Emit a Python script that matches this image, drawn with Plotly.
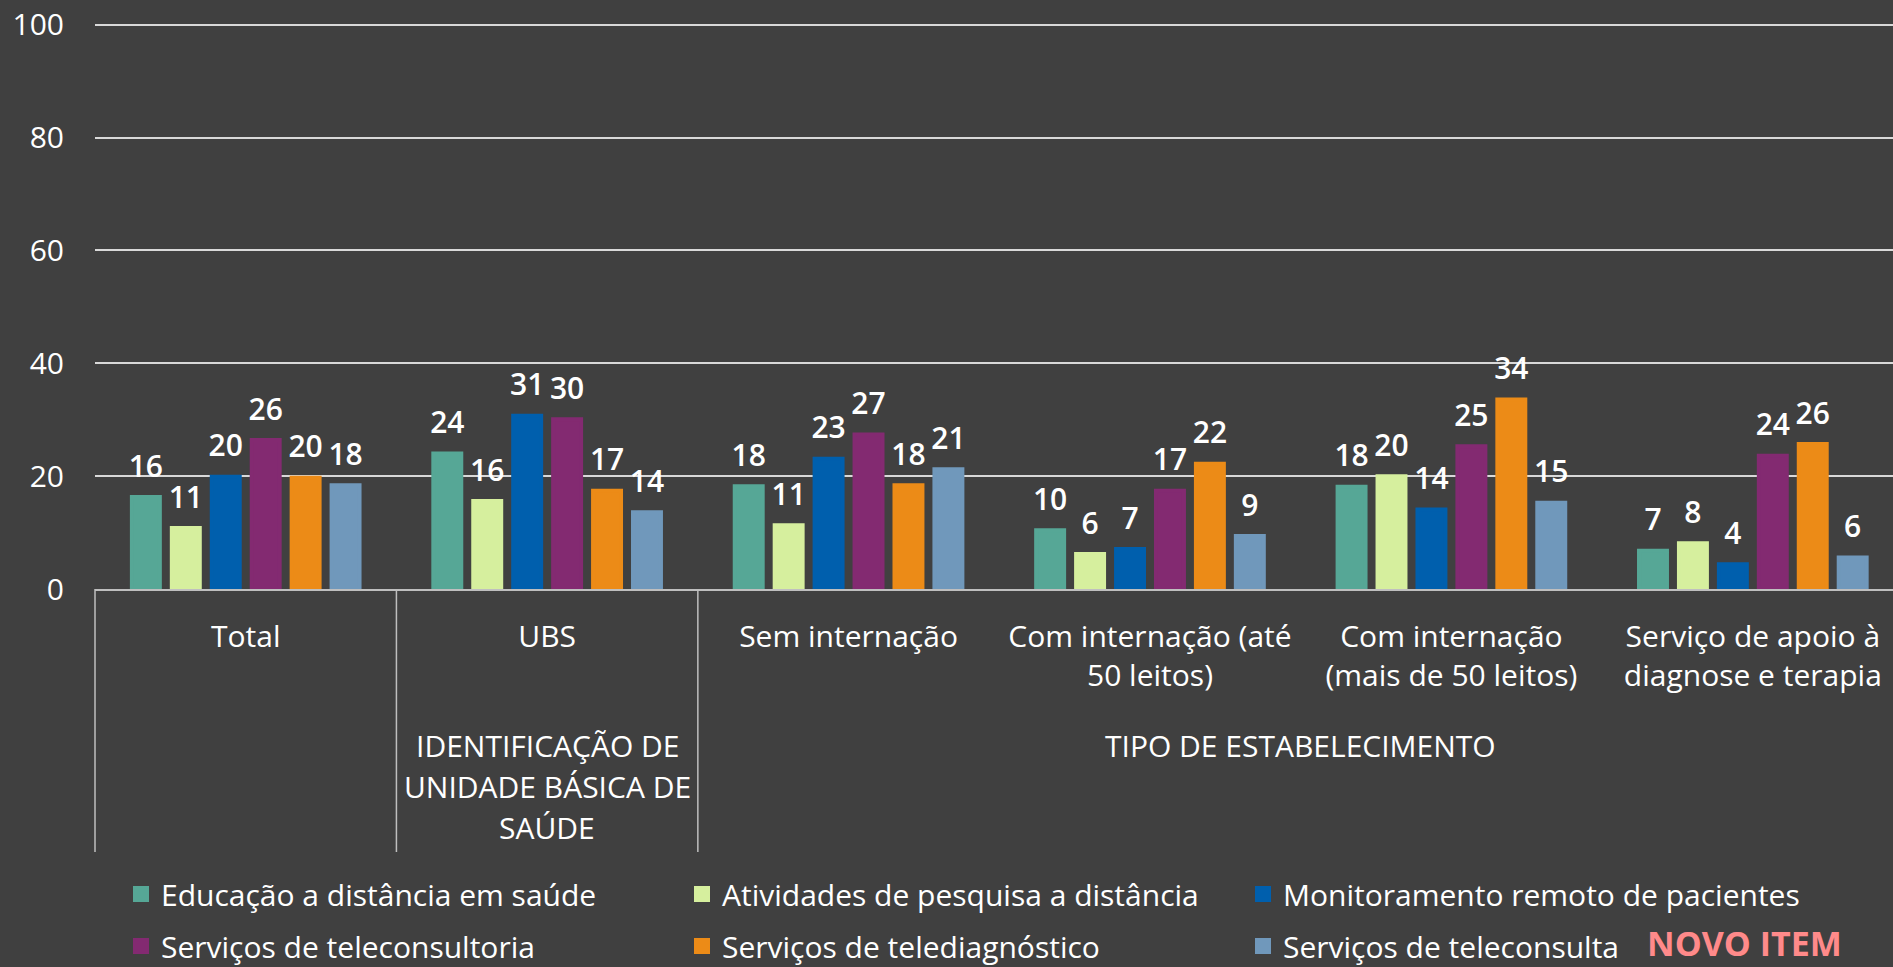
import plotly.graph_objects as go

# ---------------- data ----------------
categories = [
    "Total",
    "UBS",
    "Sem internação",
    "Com internação (até 50 leitos)",
    "Com internação (mais de 50 leitos)",
    "Serviço de apoio à diagnose e terapia",
]
tick_labels = [
    "Total",
    "UBS",
    "Sem internação",
    "Com internação (até<br>50 leitos)",
    "Com internação<br>(mais de 50 leitos)",
    "Serviço de apoio à<br>diagnose e terapia",
]
group_ubs_lines = ["IDENTIFICAÇÃO DE", "UNIDADE BÁSICA DE", "SAÚDE"]
group_tipo = "TIPO DE ESTABELECIMENTO"

series_names = [
    "Educação a distância em saúde",
    "Atividades de pesquisa a distância",
    "Monitoramento remoto de pacientes",
    "Serviços de teleconsultoria",
    "Serviços de telediagnóstico",
    "Serviços de teleconsulta",
]
educacao = [16.3, 24.0, 18.2, 10.4, 18.1, 6.8]
pesquisa = [10.8, 15.6, 11.3, 6.2, 20.0, 8.1]
monitoramento = [19.9, 30.7, 23.1, 7.1, 14.1, 4.4]
teleconsultoria = [26.4, 30.1, 27.4, 17.4, 25.3, 23.6]
telediagnostico = [19.7, 17.4, 18.4, 22.2, 33.6, 25.7]
teleconsulta = [18.4, 13.6, 21.2, 9.4, 15.3, 5.6]
series_values = [educacao, pesquisa, monitoramento, teleconsultoria, telediagnostico, teleconsulta]

colors = ["#56A796", "#D6EF9E", "#005FAD", "#832A71", "#EC8B17", "#7098BB"]
novo_item = "NOVO ITEM"

# ---------------- style ----------------
BG = "#404040"
FONT = "Open Sans"
W, H = 1893, 967
ML, MR, MT, MB = 95, 0, 23, 378
Y_TOP = 100.3
X_END = 5.465
plot_w = W - ML - MR
plot_h = H - MT - MB
AX_Y = H - MB  # pixel row of the x axis

fig = go.Figure()

for i, (name, vals, col) in enumerate(zip(series_names, series_values, colors)):
    fig.add_trace(go.Bar(
        x=categories, y=vals, name=name,
        marker=dict(color=col, line=dict(width=4, color=col)),
        legend="legend" if i < 3 else "legend2",
        hoverinfo="skip",
    ))

for i, (name, vals) in enumerate(zip(series_names, series_values)):
    fig.add_trace(go.Scatter(
        x=categories, y=vals, mode="markers+text",
        text=[f"{int(v + 0.5)}" for v in vals],
        textposition="top center",
        textfont=dict(family=FONT, size=30, color="white", weight=600),
        marker=dict(size=19, color="rgba(0,0,0,0)"),
        orientation="v",
        showlegend=False, hoverinfo="skip",
    ))


def px_x(idx):
    return (idx + 0.5) / (X_END + 0.5)


shapes = []
for b in [-0.5, 0.5, 1.5]:
    shapes.append(dict(type="line", xref="paper", yref="paper",
                       x0=px_x(b), x1=px_x(b), y0=0, y1=-(852 - AX_Y) / plot_h,
                       line=dict(color="#BFBFBF", width=1.5)))

grp_font = dict(family=FONT, size=30, color="white")
annotations = []
for k, line in enumerate(group_ubs_lines):
    annotations.append(dict(text=line, x=1, xref="x", y=0, yref="paper", yanchor="top",
                            yshift=-(723 - AX_Y) - 41 * k, showarrow=False, font=grp_font))
annotations.append(dict(text=group_tipo, x=3.5, xref="x", y=0, yref="paper", yanchor="top",
                        yshift=-(723 - AX_Y), showarrow=False, font=grp_font))
annotations.append(dict(text=f"<b>{novo_item}</b>", xref="paper", x=(1646 - ML) / plot_w,
                        xanchor="left", yref="paper", y=0, yanchor="middle",
                        yshift=-(943 - AX_Y), showarrow=False, borderpad=0,
                        font=dict(family=FONT, size=34, color="#FF8A8A")))

legend_common = dict(
    orientation="h", xref="container", yref="container",
    xanchor="left", yanchor="middle",
    font=dict(family=FONT, size=30, color="white"),
    bgcolor="rgba(0,0,0,0)", entrywidth=516, entrywidthmode="pixels",
    itemclick=False, itemdoubleclick=False,
)

fig.update_layout(
    width=W, height=H,
    margin=dict(l=ML, r=MR, t=MT, b=MB, pad=0),
    paper_bgcolor=BG, plot_bgcolor=BG,
    barmode="group", bargap=0.205, bargroupgap=0.3,
    scattermode="group", scattergap=0.205,
    font=dict(family=FONT, color="white", size=30),
    xaxis=dict(
        type="category", range=[-0.5, X_END],
        tickvals=categories, ticktext=tick_labels,
        tickfont=dict(family=FONT, size=30, color="white"),
        showgrid=False, showline=True, linecolor="#BFBFBF", linewidth=2,
        ticks="", ticklabelstandoff=20, fixedrange=True,
    ),
    yaxis=dict(
        range=[0, Y_TOP], tickvals=[0, 20, 40, 60, 80, 100],
        showgrid=True, gridcolor="#D9D9D9", gridwidth=1.5,
        zeroline=False, showline=False,
        tickfont=dict(family=FONT, size=30, color="white"),
        ticks="", ticklabelstandoff=30, fixedrange=True,
    ),
    legend=dict(x=121 / W, y=1 - 894 / H, **legend_common),
    legend2=dict(x=121 / W, y=1 - 946 / H, **legend_common),
    shapes=shapes,
    annotations=annotations,
    showlegend=True,
)

fig.write_html(
    "out.html",
    config={"displayModeBar": False},
    post_script="document.body.style.margin='0';document.body.style.overflow='hidden';",
)
